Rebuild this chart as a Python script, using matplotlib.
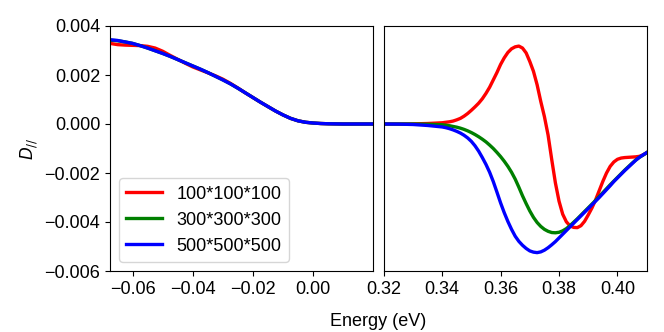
import matplotlib
matplotlib.use("Agg")
import matplotlib.pyplot as plt

plt.rcParams['font.family'] = ['Liberation Sans', 'DejaVu Sans']
plt.rcParams['font.size'] = 13

labels = ["100*100*100", "300*300*300", "500*500*500"]
colors = ["red", "green", "blue"]

# Left panel (energy around 0)
energy_left = [-0.0675, -0.065, -0.0625, -0.06, -0.0575, -0.055, -0.0525, -0.05,
               -0.0475, -0.045, -0.0425, -0.04, -0.0375, -0.035, -0.0325, -0.03,
               -0.0275, -0.025, -0.0225, -0.02, -0.0175, -0.015, -0.0125, -0.01,
               -0.0075, -0.005, -0.0025, 0.0, 0.0025, 0.005, 0.0075, 0.01,
               0.0125, 0.015, 0.0175, 0.02]
red_left = [3.29, 3.24, 3.22, 3.21, 3.20, 3.17, 3.10, 2.97,
            2.80, 2.64, 2.48, 2.33, 2.21, 2.09, 1.97, 1.83,
            1.66, 1.47, 1.27, 1.08, 0.89, 0.71, 0.53, 0.37,
            0.23, 0.13, 0.07, 0.04, 0.02, 0.01, 0.005, 0.0,
            0.0, 0.0, 0.0, 0.0]
green_left = [3.42, 3.40, 3.35, 3.29, 3.20, 3.10, 2.99, 2.88,
              2.76, 2.63, 2.50, 2.37, 2.24, 2.10, 1.95, 1.80,
              1.64, 1.46, 1.27, 1.08, 0.89, 0.71, 0.53, 0.37,
              0.23, 0.13, 0.07, 0.04, 0.02, 0.01, 0.005, 0.0,
              0.0, 0.0, 0.0, 0.0]
blue_left = [3.44, 3.41, 3.35, 3.29, 3.20, 3.10, 2.99, 2.88,
             2.76, 2.63, 2.50, 2.37, 2.24, 2.10, 1.95, 1.80,
             1.64, 1.46, 1.27, 1.08, 0.89, 0.71, 0.53, 0.37,
             0.23, 0.13, 0.07, 0.04, 0.02, 0.01, 0.005, 0.0,
             0.0, 0.0, 0.0, 0.0]

# Right panel (energy around 0.36 eV)
energy_right = [0.32, 0.325, 0.33, 0.335, 0.34, 0.34125, 0.3425, 0.34375,
                0.345, 0.34625, 0.3475, 0.34875, 0.35, 0.35125, 0.3525, 0.35375,
                0.355, 0.35625, 0.3575, 0.35875, 0.36, 0.36125, 0.3625, 0.36375,
                0.365, 0.36625, 0.3675, 0.36875, 0.37, 0.37125, 0.3725, 0.37375,
                0.375, 0.37625, 0.3775, 0.37875, 0.38, 0.38125, 0.3825, 0.38375,
                0.385, 0.38625, 0.3875, 0.38875, 0.39, 0.39125, 0.3925, 0.39375,
                0.395, 0.39625, 0.3975, 0.39875, 0.4, 0.40125, 0.4025, 0.40375,
                0.405, 0.40625, 0.4075, 0.40875, 0.41]
red_right = [0.0, 0.0, 0.005, 0.02, 0.05, 0.07, 0.09, 0.12,
             0.17, 0.23, 0.32, 0.43, 0.56, 0.70, 0.85, 1.03,
             1.25, 1.50, 1.80, 2.10, 2.43, 2.70, 2.92, 3.07,
             3.15, 3.18, 3.10, 2.90, 2.55, 2.15, 1.60, 0.92,
             0.30, -0.45, -1.45, -2.40, -3.15, -3.68, -3.99, -4.16,
             -4.22, -4.23, -4.15, -3.97, -3.71, -3.43, -3.10, -2.72,
             -2.34, -2.00, -1.73, -1.55, -1.44, -1.39, -1.37, -1.36,
             -1.35, -1.34, -1.32, -1.26, -1.17]
green_right = [0.0, 0.0, 0.0, -0.01, -0.03, -0.05, -0.07, -0.10,
               -0.13, -0.17, -0.22, -0.28, -0.35, -0.43, -0.52, -0.62,
               -0.73, -0.86, -1.00, -1.16, -1.33, -1.52, -1.73, -1.97,
               -2.25, -2.58, -2.93, -3.25, -3.55, -3.81, -4.02, -4.18,
               -4.30, -4.38, -4.43, -4.44, -4.42, -4.36, -4.27, -4.15,
               -4.01, -3.87, -3.72, -3.57, -3.42, -3.27, -3.12, -2.96,
               -2.80, -2.64, -2.48, -2.33, -2.18, -2.03, -1.88, -1.74,
               -1.60, -1.47, -1.36, -1.27, -1.17]
blue_right = [0.0, -0.005, -0.02, -0.06, -0.12, -0.15, -0.19, -0.24,
              -0.30, -0.37, -0.46, -0.57, -0.71, -0.89, -1.11, -1.37,
              -1.65, -1.97, -2.35, -2.78, -3.22, -3.62, -3.98, -4.30,
              -4.58, -4.79, -4.95, -5.08, -5.18, -5.23, -5.25, -5.22,
              -5.15, -5.05, -4.93, -4.80, -4.65, -4.50, -4.35, -4.20,
              -4.05, -3.90, -3.75, -3.60, -3.45, -3.30, -3.15, -3.00,
              -2.84, -2.68, -2.52, -2.35, -2.20, -2.05, -1.90, -1.76,
              -1.62, -1.48, -1.36, -1.26, -1.17]

left_series = [red_left, green_left, blue_left]
right_series = [red_right, green_right, blue_right]

fig = plt.figure(figsize=(6.64, 3.32), dpi=100)
W, H = 664.0, 332.0
axL = fig.add_axes([110 / W, 61 / H, 263.3 / W, 245 / H])
axR = fig.add_axes([383.7 / W, 61 / H, 263 / W, 245 / H])

for ys, c, lab in zip(left_series, colors, labels):
    axL.plot(energy_left, [v * 1e-3 for v in ys], color=c, lw=2.4, label=lab,
             solid_joinstyle='round')
for ys, c in zip(right_series, colors):
    axR.plot(energy_right, [v * 1e-3 for v in ys], color=c, lw=2.4,
             solid_joinstyle='round')

axL.set_xlim(-0.0675, 0.02)
axR.set_xlim(0.32, 0.41)
for ax in (axL, axR):
    ax.set_ylim(-0.006, 0.004)

axL.set_xticks([-0.06, -0.04, -0.02, 0.0])
axL.set_xticklabels(["\u22120.06", "\u22120.04", "\u22120.02", "0.00"])
axL.set_yticks([-0.006, -0.004, -0.002, 0.0, 0.002, 0.004])
axL.set_yticklabels(["\u22120.006", "\u22120.004", "\u22120.002", "0.000", "0.002", "0.004"])
axR.set_xticks([0.32, 0.34, 0.36, 0.38, 0.40])
axR.set_xticklabels(["0.32", "0.34", "0.36", "0.38", "0.40"])
axR.tick_params(axis='y', left=False, labelleft=False)

axL.set_ylabel("$D_{//}$", labelpad=3, fontsize=12)
fig.text(378 / W, 1 - 321 / H, "Energy (eV)", ha='center', va='center', fontsize=13)

axL.legend(loc='lower left', fontsize=13, handlelength=2.0)

fig.savefig("out.png", dpi=100)
